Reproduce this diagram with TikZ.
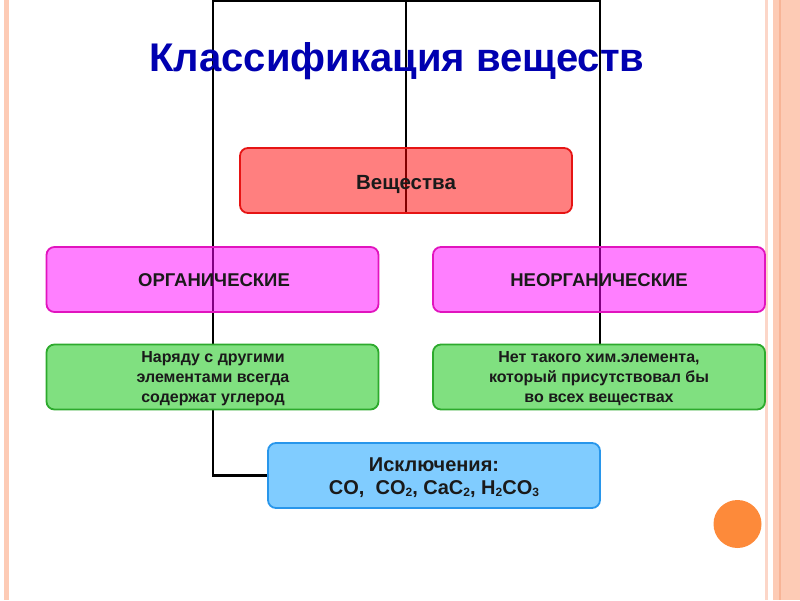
\documentclass[tikz,border=0pt]{standalone}
\usepackage{fontspec}
\setmainfont{Liberation Sans}
\usetikzlibrary{backgrounds}
\definecolor{titleblue}{RGB}{0,0,176}
\definecolor{txt}{RGB}{26,26,26}
\definecolor{redfill}{RGB}{255,0,0}
\definecolor{redborder}{RGB}{230,20,20}
\definecolor{pinkfill}{RGB}{255,0,255}
\definecolor{pinkborder}{RGB}{225,20,190}
\definecolor{greenfill}{RGB}{128,224,128}
\definecolor{greenborder}{RGB}{45,170,45}
\definecolor{bluefill}{RGB}{128,204,255}
\definecolor{blueborder}{RGB}{40,150,235}
\definecolor{framepale}{RGB}{252,214,200}
\definecolor{framefill}{RGB}{253,203,181}
\definecolor{frameline}{RGB}{248,180,150}
\definecolor{dotorange}{RGB}{253,138,58}
\newcommand\chemsub[1]{\raisebox{-0.25ex}{\fontsize{12}{12}\selectfont #1}}
\begin{document}
\begin{tikzpicture}[x=1pt,y=-1pt,
  box/.style={rounded corners=8pt, line width=1.8pt,
    minimum width=332pt, minimum height=65pt, inner sep=0pt},
  redbox/.style={box, draw=redborder, fill=redfill, fill opacity=0.5},
  pinkbox/.style={box, draw=pinkborder, fill=pinkfill, fill opacity=0.5},
  greenbox/.style={box, draw=greenborder, fill=greenfill},
  bluebox/.style={box, draw=blueborder, fill=bluefill},
  boxtext/.style={align=center, text=txt, inner sep=0pt},
  conn/.style={line width=2.4pt, black}]
\useasboundingbox (0,0) rectangle (800,600);
% frame
\fill[framefill] (4,0) rectangle (9,600);
\fill[framepale] (765,0) rectangle (768,600);
\fill[framefill] (773,0) rectangle (800,600);
\fill[frameline] (779,0) rectangle (781,600);
\fill[dotorange] (737.5,524) circle (24);
% title
\node[anchor=base, text=titleblue, font=\bfseries\fontsize{40}{48}\selectfont, inner sep=0pt]
  (title) at (397,71) {Классификация веществ};
% boxes
\node[redbox] (vesh) at (406,180.5) {};
\node[pinkbox] (org) at (212.5,279.5) {};
\node[pinkbox] (neorg) at (599,279.5) {};
\node[greenbox] (orgtxt) at (212.5,377) {};
\node[greenbox] (neorgtxt) at (599,377) {};
\node[bluebox] (exc) at (434,475.5) {};
% texts
\node[boxtext, anchor=base, font=\bfseries\fontsize{20.5}{24}\selectfont] (veshlabel) at (406,189) {Вещества};
\node[boxtext, anchor=base, font=\bfseries\fontsize{18.5}{21}\selectfont] (orglabel) at (214,286.5) {ОРГАНИЧЕСКИЕ};
\node[boxtext, anchor=base, font=\bfseries\fontsize{18.5}{21}\selectfont] (neorglabel) at (599,286.5) {НЕОРГАНИЧЕСКИЕ};
\node[boxtext, font=\bfseries\fontsize{16}{20}\selectfont] (orgtxtlabel) at (213,379) {Наряду с другими\\элементами всегда\\ содержат углерод};
\node[boxtext, font=\bfseries\fontsize{16}{20}\selectfont] (neorgtxtlabel) at (599,379) {Нет такого хим.элемента,\\который присутствовал бы\\во всех веществах};
\node[boxtext, font=\bfseries\fontsize{20}{23}\selectfont] (exclabel) at (434,477.5) {Исключения:\\CO,\ \ CO\chemsub{2}, CaC\chemsub{2}, H\chemsub{2}CO\chemsub{3}};
% connectors
\coordinate (tl) at (213,1.2);
\coordinate (tm) at (406,1.2);
\coordinate (tr) at (600,1.2);
\begin{scope}[on background layer]
\draw[conn] (exc.west) -| (tl) -- (tr) -- (tr |- neorgtxt.north);
\draw[conn] (tm) -- (vesh.south);
\end{scope}
\end{tikzpicture}
\end{document}
